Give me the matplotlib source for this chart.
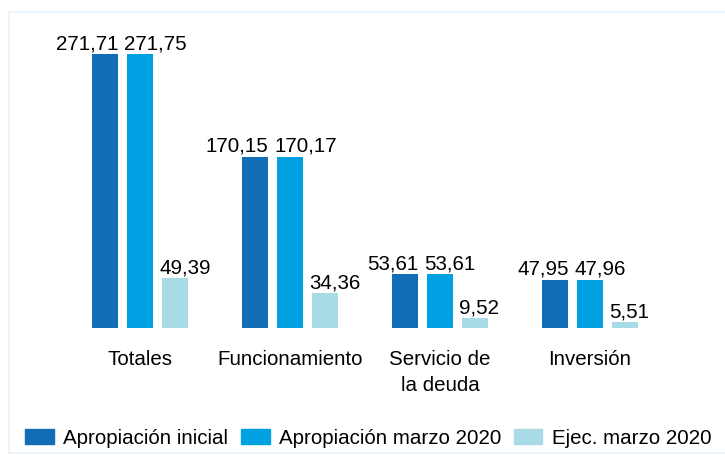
import matplotlib.pyplot as plt
from matplotlib.patches import Rectangle
from matplotlib.lines import Line2D

plt.rcParams['font.family'] = ['Liberation Sans', 'DejaVu Sans']

categorias = ["Totales", "Funcionamiento", "Servicio de\nla deuda", "Inversión"]
series = ["Apropiación inicial", "Apropiación marzo 2020", "Ejec. marzo 2020"]
apropiacion_inicial = [271.71, 170.15, 53.61, 47.95]
apropiacion_marzo = [271.75, 170.17, 53.61, 47.96]
ejecucion_marzo = [49.39, 34.36, 9.52, 5.51]
colores = ['#116eb6', '#00a1e2', '#a9dbe6']

FS = 14.8


def fmt(v):
    return f"{v:.2f}".replace('.', ',')


def main():
    fig = plt.figure(figsize=(7.25, 4.55), dpi=100)
    # ejes a todo lo ancho, base de las barras a 328 px desde arriba
    ax = fig.add_axes([0, (455 - 328) / 455, 1, 328 / 455])
    ax.set_xlim(-140 / 150, (725 - 140) / 150)
    ax.set_ylim(0, 328 / 1.007)
    ax.axis('off')

    ancho = 26 / 150
    paso = 35 / 150
    datos = [apropiacion_inicial, apropiacion_marzo, ejecucion_marzo]
    for s, valores in enumerate(datos):
        xs = [i + (s - 1) * paso for i in range(len(categorias))]
        ax.bar(xs, valores, width=ancho, color=colores[s], label=series[s])
        for x, v in zip(xs, valores):
            if s == 0:
                ax.annotate(fmt(v), (x + ancho / 2, v), xytext=(0.5, 3.6),
                            textcoords='offset points', ha='right', va='baseline',
                            fontsize=FS, annotation_clip=False)
            else:
                ax.annotate(fmt(v), (x - ancho / 2, v), xytext=(-2, 3.6),
                            textcoords='offset points', ha='left', va='baseline',
                            fontsize=FS, annotation_clip=False)

    for i, c in enumerate(categorias):
        ax.text(i, -22, c, ha='center', va='top', fontsize=FS,
                linespacing=1.45, clip_on=False)

    handles = [Rectangle((0, 0), 1, 1, color=c) for c in colores]
    fig.legend(handles, series, loc='center', bbox_to_anchor=(0.508, 0.037),
               ncol=3, frameon=False, fontsize=FS, handlelength=1.4,
               handleheight=0.75, handletextpad=0.45, columnspacing=0.6,
               borderaxespad=0, borderpad=0)

    # borde claro del recuadro
    borde = '#e8f3fb'
    fig.add_artist(Line2D([9 / 725, 9 / 725], [2 / 455, 443 / 455], color=borde, lw=1.2))
    fig.add_artist(Line2D([9 / 725, 1], [443 / 455, 443 / 455], color=borde, lw=1.2))
    fig.add_artist(Line2D([9 / 725, 1], [2 / 455, 2 / 455], color=borde, lw=1.2))

    fig.savefig('out.png', dpi=100)


if __name__ == "__main__":
    main()
